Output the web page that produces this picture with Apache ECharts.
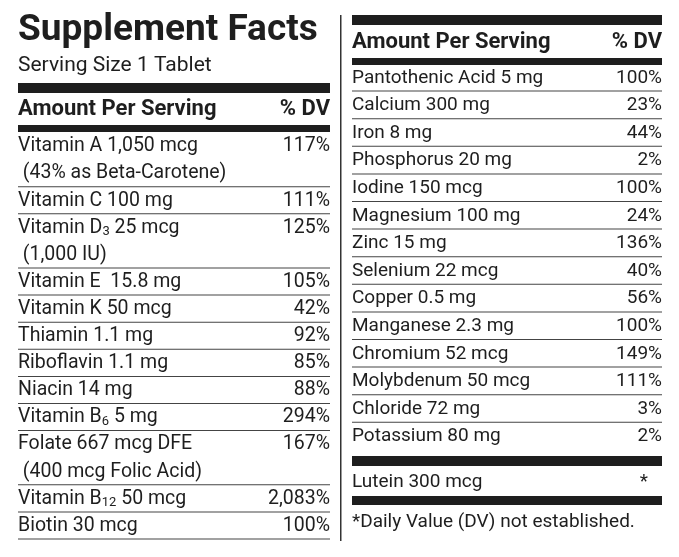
<!DOCTYPE html>
<html><head><meta charset="utf-8">
<script src="https://cdn.jsdelivr.net/npm/echarts@6/dist/echarts.min.js"></script>
<style>html,body{margin:0;background:#fff}#c{width:679px;height:557px}</style>
</head><body><div id="c"></div>
<script>
const title = "Supplement Facts";
const serving = "Serving Size 1 Tablet";
const header = ["Amount Per Serving", "% DV"];
const leftNames = [
  ["Vitamin A 1,050 mcg", " (43% as Beta-Carotene)"],
  ["Vitamin C 100 mg"],
  ["Vitamin D{s|3} 25 mcg", " (1,000 IU)"],
  ["Vitamin E  15.8 mg"],
  ["Vitamin K 50 mcg"],
  ["Thiamin 1.1 mg"],
  ["Riboflavin 1.1 mg"],
  ["Niacin 14 mg"],
  ["Vitamin B{s|6} 5 mg"],
  ["Folate 667 mcg DFE", " (400 mcg Folic Acid)"],
  ["Vitamin B{s|12} 50 mcg"],
  ["Biotin 30 mcg"]
];
const leftDV = ["117%","111%","125%","105%","42%","92%","85%","88%","294%","167%","2,083%","100%"];
const rightNames = ["Pantothenic Acid 5 mg","Calcium 300 mg","Iron 8 mg","Phosphorus 20 mg","Iodine 150 mcg","Magnesium 100 mg","Zinc 15 mg","Selenium 22 mcg","Copper 0.5 mg","Manganese 2.3 mg","Chromium 52 mcg","Molybdenum 50 mcg","Chloride 72 mg","Potassium 80 mg"];
const rightDV = ["100%","23%","44%","2%","100%","24%","136%","40%","56%","100%","149%","111%","3%","2%"];
const extraName = "Lutein 300 mcg", extraDV = "*";
const footnote = "*Daily Value (DV) not established.";

const F = "Roboto, 'Liberation Sans', sans-serif";
const C = "#1e1e1e";
const els = [];
function rect(x,y,w,h,fill){els.push({type:'rect',shape:{x,y,width:w,height:h},style:{fill:fill||C}});}
function txt(x,y,t,opt){opt=opt||{};els.push({type:'text',x,y,style:{text:t,fill:C,font:(opt.bold?'bold ':'')+(opt.size||18)+'px '+F,align:opt.align||'left',verticalAlign:'middle',rich:{s:{fontSize:13,verticalAlign:'bottom',padding:[8,0,0,0],fill:C,fontFamily:F}}}});}

const L0=18, L1=330;
txt(L0,31,title,{bold:true,size:37});
txt(L0,66,serving,{size:21});
rect(L0,83,L1-L0,10);
txt(L0,109,header[0],{bold:true,size:22});
txt(L1,109,header[1],{bold:true,size:22,align:'right'});
rect(L0,125,L1-L0,7);
const lh=27.1; let y=133;
leftNames.forEach((n,i)=>{
  n.forEach((line,j)=>txt(L0,y+13.5+j*lh,line,{size:19.5}));
  txt(L1,y+13.5,leftDV[i],{size:19.5,align:'right'});
  y+=lh*n.length;
  rect(L0,y-1,L1-L0,1,'#444');
});
rect(340,15,1.5,526,'#333');
const R0=352, R1=662;
rect(R0,15,R1-R0,10);
txt(R0,42,header[0],{bold:true,size:22});
txt(R1,42,header[1],{bold:true,size:22,align:'right'});
rect(R0,58,R1-R0,7);
const rh=27.6; y=64;
rightNames.forEach((n,i)=>{
  txt(R0,y+13.8,n,{size:19});
  txt(R1,y+13.8,rightDV[i],{size:19,align:'right'});
  y+=rh;
  if(i<rightNames.length-1) rect(R0,y-1,R1-R0,1,'#444');
});
rect(R0,456,R1-R0,10);
txt(R0,482,extraName,{size:19});
txt(R1-14,482,extraDV,{size:19,align:'right'});
rect(R0,496,R1-R0,9);
txt(R0,522,footnote,{size:19});

const chart=echarts.init(document.getElementById('c'));
chart.setOption({backgroundColor:'#fff',graphic:{elements:els}});
</script></body></html>
